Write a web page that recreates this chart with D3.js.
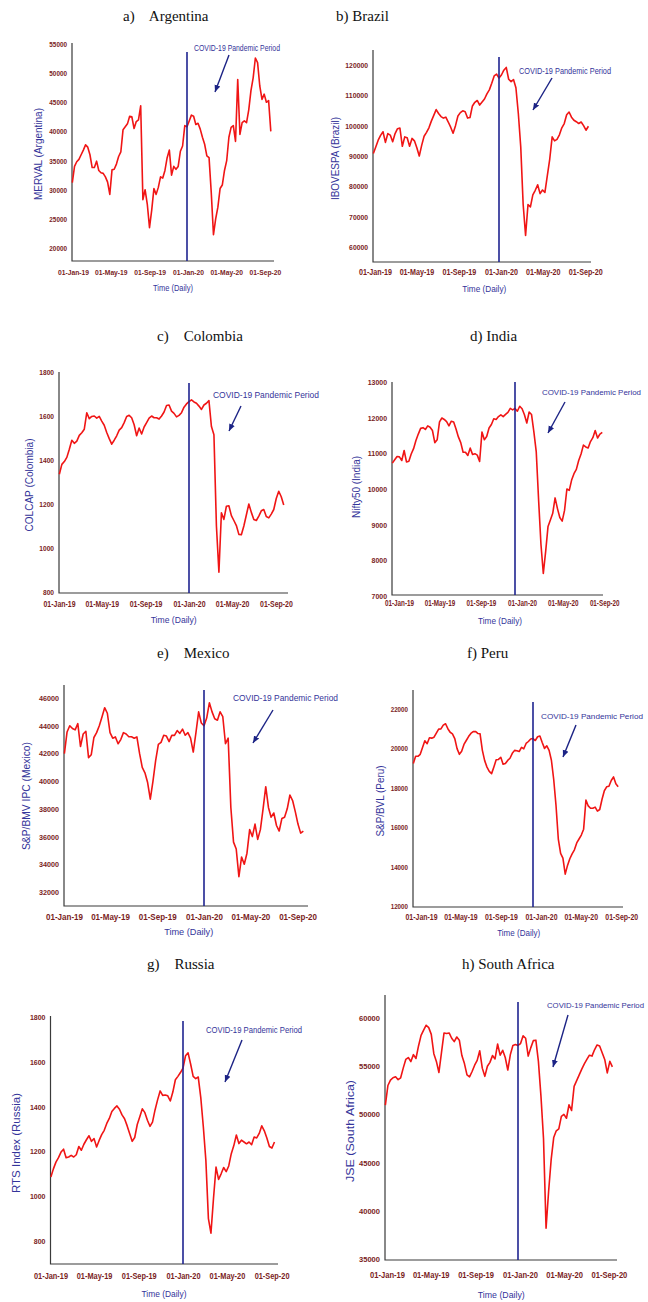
<!DOCTYPE html>
<html><head><meta charset="utf-8">
<script src="https://cdn.jsdelivr.net/npm/d3@7"></script>
<style>
body{margin:0;background:#fff;}
svg{display:block;background:#fff;}
.title{font-family:"Liberation Serif","Times New Roman",serif;font-size:15px;fill:#111;white-space:pre;}
.tk text{font-family:"Liberation Sans Narrow","Arial Narrow","Liberation Sans",Arial,sans-serif;font-weight:bold;fill:#7a1d1d;}
.lab{font-family:"Liberation Sans Narrow","Arial Narrow","Liberation Sans",Arial,sans-serif;fill:#34349a;}
</style></head><body>
<svg id="chart" width="648" height="1302"></svg>
<script>
// ---------- data (weekly readings, first week starting 02-Jan-2019) ----------
const startDate = new Date(2019, 0, 2);
const xTickLabels = ["01-Jan-19","01-May-19","01-Sep-19","01-Jan-20","01-May-20","01-Sep-20"];
const xTickDates = [new Date(2019,0,1),new Date(2019,4,1),new Date(2019,8,1),new Date(2020,0,1),new Date(2020,4,1),new Date(2020,8,1)];
const covidStart = new Date(2020,0,1);
const covidLabel = "COVID-19 Pandemic Period";
const xAxisTitle = "Time (Daily)";

const titles = ["a)    Argentina","b) Brazil","c)    Colombia","d) India","e)    Mexico","f) Peru","g)    Russia","h) South Africa"];
const yAxisTitles = ["MERVAL (Argentina)","IBOVESPA (Brazil)","COLCAP (Colombia)","Nifty50 (India)","S&P/BMV IPC (Mexico)","S&P/BVL (Peru)","RTS Index (Russia)","JSE (South Africa)"];

const yTicksArgentina = [20000,25000,30000,35000,40000,45000,50000,55000];
const yTicksBrazil = [60000,70000,80000,90000,100000,110000,120000];
const yTicksColombia = [800,1000,1200,1400,1600,1800];
const yTicksIndia = [7000,8000,9000,10000,11000,12000,13000];
const yTicksMexico = [32000,34000,36000,38000,40000,42000,44000,46000];
const yTicksPeru = [12000,14000,16000,18000,20000,22000];
const yTicksRussia = [800,1000,1200,1400,1600,1800];
const yTicksSouthAfrica = [35000,40000,45000,50000,55000,60000];

const merval = [31200,34000,34800,35200,36000,36800,37700,37300,36000,33800,33800,34900,33300,32900,32800,32200,31300,29200,33400,33500,34400,35700,36500,40300,40800,41300,42600,42500,40500,41700,42000,44400,28300,30000,27500,23500,26500,30200,29200,30400,32200,32000,33300,35500,36800,32500,34000,33500,34000,36600,37500,41000,40800,41800,42800,42600,41200,41400,40400,39000,37800,35800,35500,29500,22300,25000,27000,30200,30800,33300,35000,39000,40700,41000,38300,48900,39500,41500,41800,41500,43700,47000,49200,52600,51800,47800,45500,46400,45000,45300,40000];
const ibovespa = [90800,93000,95200,96800,98000,94500,97400,96900,94700,97400,99000,99200,93200,96300,96000,93200,95800,95000,92700,90000,93500,96500,97800,99300,101500,103400,105300,104000,103000,102500,102800,101200,99500,97500,100000,103200,104300,104900,104600,102500,102700,106500,107700,108300,106800,107800,108800,110500,111800,114000,116400,117000,115700,116700,118300,119200,115300,114500,115200,112500,104000,93000,74000,63800,74000,73200,77200,78700,80500,77600,78800,78000,83500,89000,96300,95000,95500,97000,99300,100700,103600,104500,102800,101800,101300,100700,101200,100000,98500,99800];
const colcap = [1335,1380,1393,1412,1449,1490,1476,1486,1512,1524,1540,1615,1588,1598,1600,1590,1598,1577,1558,1525,1497,1472,1490,1510,1536,1547,1570,1598,1603,1592,1560,1510,1545,1518,1550,1570,1590,1600,1592,1592,1586,1600,1618,1648,1650,1622,1612,1596,1603,1615,1640,1655,1665,1673,1664,1658,1645,1630,1650,1658,1670,1552,1515,1100,890,1160,1130,1190,1192,1147,1125,1102,1062,1060,1100,1150,1200,1162,1130,1125,1145,1169,1175,1143,1137,1154,1175,1225,1258,1233,1195];
const nifty50 = [10725,10818,10912,10900,10800,11080,10760,10780,10980,11130,11360,11540,11700,11720,11670,11770,11730,11640,11300,11380,11880,11990,11950,11890,11770,11900,11880,11680,11460,11300,11030,11030,10940,11146,10970,10990,10950,10770,11600,11380,11470,11710,11810,11970,11950,12030,12080,12030,12090,12150,12260,12220,12260,12180,12320,12250,12080,11850,12160,12090,11600,11050,9700,8450,7630,8250,8950,9130,9320,9750,9450,9200,9100,9400,10000,9960,10250,10430,10550,10800,10980,11230,11180,11150,11330,11440,11640,11430,11540,11590];
const ipc = [41980,43550,44000,43800,43700,44150,42500,43400,43600,41700,41900,43150,43500,44000,44630,45300,44900,43500,43100,43190,42700,43000,43500,43400,43200,43200,43100,43190,42000,41000,40600,39900,38700,40000,41500,42650,42800,43310,43250,42850,43300,43300,43650,43450,43750,43310,43500,43100,42100,43500,45000,44200,44000,44550,45650,45000,44500,44400,45000,44650,42700,43100,38100,35600,35100,33100,34530,34000,34800,36500,36000,36900,35800,36500,38000,39600,38100,37400,37700,36800,36400,37300,37400,38000,39000,38600,37800,36900,36250,36400];
const bvl = [19230,19600,19600,19700,20050,20390,20240,20540,20520,20570,20780,20980,20990,21180,21250,21000,20820,20740,20500,19990,19700,19850,20200,20400,20600,20760,20850,20860,20760,20740,19900,19380,19050,18830,18720,19060,19420,19440,19550,19200,19230,19390,19500,19750,19900,19880,19840,20050,19980,20250,20350,20480,20500,20400,20590,20630,20300,20000,20130,19900,19400,18420,17100,15400,14670,14430,13620,14060,14400,14650,14850,15200,15400,15600,15900,17380,17080,16960,16960,17020,16820,16900,17420,17850,18050,18080,18370,18550,18200,18050];
const rts = [1086,1122,1152,1172,1197,1210,1172,1175,1182,1175,1185,1222,1205,1232,1252,1270,1245,1257,1220,1249,1275,1294,1325,1347,1378,1392,1403,1388,1363,1346,1315,1280,1245,1262,1320,1355,1390,1373,1339,1312,1331,1385,1430,1470,1450,1452,1448,1425,1465,1520,1535,1552,1572,1627,1640,1590,1535,1525,1532,1440,1310,1160,900,835,990,1130,1075,1100,1128,1110,1135,1190,1226,1273,1235,1250,1242,1234,1242,1230,1264,1260,1280,1314,1292,1260,1222,1215,1242];
const jse = [50970,53000,53550,53800,53900,53600,53800,54800,55700,55900,55480,56200,55800,57100,58200,58750,59250,59000,58300,56300,55500,54350,56400,58450,58400,58450,57900,57550,58030,57700,56100,55270,54100,53900,54450,55100,55600,56600,54800,53950,55000,55400,56100,55750,57300,56150,56650,55900,54600,56200,57150,57250,57150,57350,58150,57900,56050,56900,57650,57700,55500,51900,47500,38200,42000,45300,47600,48300,48500,49800,50000,49600,51000,50400,52900,53500,54100,54700,55250,55700,56140,56050,56700,57200,57100,56400,55700,54300,55500,54930];

// ---------- layout (pixel placement of each panel) ----------
// xw: width of "01-Jan-19" label, xf: its font size, yd: width per digit of y tick labels, cf: covid label font size
const layouts = [
 {ax:72, top:43, bot:261, right:274, j19:72, j20:187, yPx:[248,44], covTop:52, ldx:1, xTickY:272.7, xw:31, xf:7.6, yd:3.54, t:[123,21], cv:[194,48,86], cf:8.5, ar:[229,55,215,92], yl:[38,154,92], xl:[173,287.3,40]},
 {ax:373, top:50, bot:262, right:591, j19:373, j20:499, yPx:[247,65], covTop:57, ldx:2, xTickY:272.3, xw:33, xf:8.8, yd:3.78, t:[336,21], cv:[519,71,92], cf:9, ar:[552,78,533,110], yl:[335.5,158.5,83], xl:[484.3,288.7,44]},
 {ax:59, top:372, bot:593, right:288, j19:59, j20:189, yPx:[592,372], covTop:383, ldx:0, xTickY:604, xw:32, xf:9, yd:3.67, t:[157,340.5], cv:[213,395,106], cf:8.5, ar:[241,406,229,431], yl:[29.3,485,93], xl:[173.7,620,46]},
 {ax:392, top:382, bot:595, right:603, j19:392, j20:515, yPx:[596,382], covTop:382, ldx:7, xTickY:602.7, xw:29, xf:8.6, yd:3.86, t:[470,340.5], cv:[542,392,99], cf:8, ar:[565,402,548,433], yl:[356.7,487,62], xl:[500,621,44]},
 {ax:64, top:685, bot:906, right:308, j19:64, j20:204, yPx:[892,698], covTop:690, ldx:0, xTickY:916.7, xw:37, xf:9.5, yd:4.0, t:[157,657.5], cv:[233,698,105], cf:9, ar:[273,710,253,743], yl:[26.7,796,108], xl:[188.7,931.7,49]},
 {ax:413, top:690, bot:907, right:623, j19:413, j20:533, yPx:[906,709], covTop:702, ldx:8, xTickY:917, xw:32, xf:8.6, yd:3.46, t:[467,657.5], cv:[541,716,102], cf:8, ar:[576,725,563,757], yl:[380.7,801,71], xl:[518.7,932.7,43]},
 {ax:50.5, top:1016, bot:1264, right:278, j19:50.5, j20:183, yPx:[1241,1017], covTop:1021, ldx:0, xTickY:1276, xw:34, xf:9, yd:3.9, t:[147,969], cv:[206,1030,96], cf:9, ar:[242,1040,225,1082], yl:[16.7,1143,100], xl:[164,1294,45]},
 {ax:385, top:995, bot:1260, right:617, j19:385, j20:518, yPx:[1259,1018], covTop:1002, ldx:2, xTickY:1275, xw:35, xf:9, yd:4.2, t:[462,969], cv:[547,1005,97], cf:7.8, ar:[568,1015,553,1067], yl:[350.7,1131,102], xl:[501.3,1295,47]}
];

const seriesList = [merval, ibovespa, colcap, nifty50, ipc, bvl, rts, jse];
const yTickList = [yTicksArgentina, yTicksBrazil, yTicksColombia, yTicksIndia, yTicksMexico, yTicksPeru, yTicksRussia, yTicksSouthAfrica];

const svg = d3.select("#chart");
svg.append("defs").append("marker")
  .attr("id","arrowhead").attr("markerUnits","userSpaceOnUse")
  .attr("markerWidth",8).attr("markerHeight",8).attr("refX",7).attr("refY",4)
  .attr("orient","auto")
  .append("path").attr("d","M0,1 L7,4 L0,7 Z").attr("fill","#1c2385");

seriesList.forEach((vals, p) => {
  const L = layouts[p];
  const ticks = yTickList[p];
  const g = svg.append("g");
  const x = d3.scaleTime().domain([new Date(2019,0,1), covidStart]).range([L.j19, L.j20]);
  const y = d3.scaleLinear().domain([ticks[0], ticks[ticks.length-1]]).range(L.yPx);
  const data = vals.map((v,i) => ({date: d3.timeDay.offset(startDate, 7*i), value: v}));

  // title
  g.append("text").attr("class","title").attr("x",L.t[0]).attr("y",L.t[1]).text(titles[p]);

  // y ticks
  const ya = g.append("g").attr("class","tk").attr("transform",`translate(${L.ax},0)`)
    .call(d3.axisLeft(y).tickValues(ticks).tickSize(0).tickPadding(5).tickFormat(d3.format("d")));
  ya.select(".domain").remove();
  ya.selectAll("text").style("font-size","8px")
    .attr("textLength", d => String(d).length * L.yd).attr("lengthAdjust","spacingAndGlyphs");

  // x ticks (condensed to the reference label width)
  const xa = g.append("g").attr("class","tk").attr("transform",`translate(${L.ldx},${L.xTickY})`)
    .call(d3.axisBottom(x).tickValues(xTickDates).tickSize(0).tickPadding(0).tickFormat((d,i)=>xTickLabels[i]));
  xa.select(".domain").remove();
  const xt = xa.selectAll("text").attr("y",0).attr("dy","0.35em").style("font-size",L.xf+"px");
  const ref = xt.nodes()[0].getComputedTextLength();
  xt.each(function(){
    const w = this.getComputedTextLength();
    d3.select(this).attr("textLength", L.xw * w / ref).attr("lengthAdjust","spacingAndGlyphs");
  });

  // axis lines
  g.append("path").attr("d",`M${L.ax},${L.top}V${L.bot}H${L.right}`)
    .attr("fill","none").attr("stroke","#3a3a3a").attr("stroke-width",1.2);

  // series
  g.append("path").datum(data)
    .attr("d", d3.line().x(d=>x(d.date)).y(d=>y(d.value)))
    .attr("fill","none").attr("stroke","#f01515").attr("stroke-width",1.6).attr("stroke-linejoin","round");

  // covid line
  g.append("line").attr("x1",x(covidStart)).attr("x2",x(covidStart))
    .attr("y1",L.covTop).attr("y2",L.bot).attr("stroke","#1f2490").attr("stroke-width",1.6);

  // covid label + arrow
  g.append("text").attr("class","lab").attr("x",L.cv[0]).attr("y",L.cv[1]).attr("dy","0.35em")
    .attr("textLength",L.cv[2]).attr("lengthAdjust","spacingAndGlyphs")
    .style("font-size",L.cf+"px").text(covidLabel);
  g.append("line").attr("x1",L.ar[0]).attr("y1",L.ar[1]).attr("x2",L.ar[2]).attr("y2",L.ar[3])
    .attr("stroke","#1c2385").attr("stroke-width",1.4).attr("marker-end","url(#arrowhead)");

  // axis titles
  g.append("text").attr("class","lab").attr("text-anchor","middle")
    .attr("transform",`translate(${L.yl[0]},${L.yl[1]}) rotate(-90)`).attr("dy","0.35em")
    .attr("textLength",L.yl[2]).attr("lengthAdjust","spacingAndGlyphs")
    .style("font-size","10px").text(yAxisTitles[p]);
  g.append("text").attr("class","lab").attr("text-anchor","middle")
    .attr("x",L.xl[0]).attr("y",L.xl[1]).attr("dy","0.35em")
    .attr("textLength",L.xl[2]).attr("lengthAdjust","spacingAndGlyphs")
    .style("font-size","9.5px").text(xAxisTitle);
});
</script></body></html>
